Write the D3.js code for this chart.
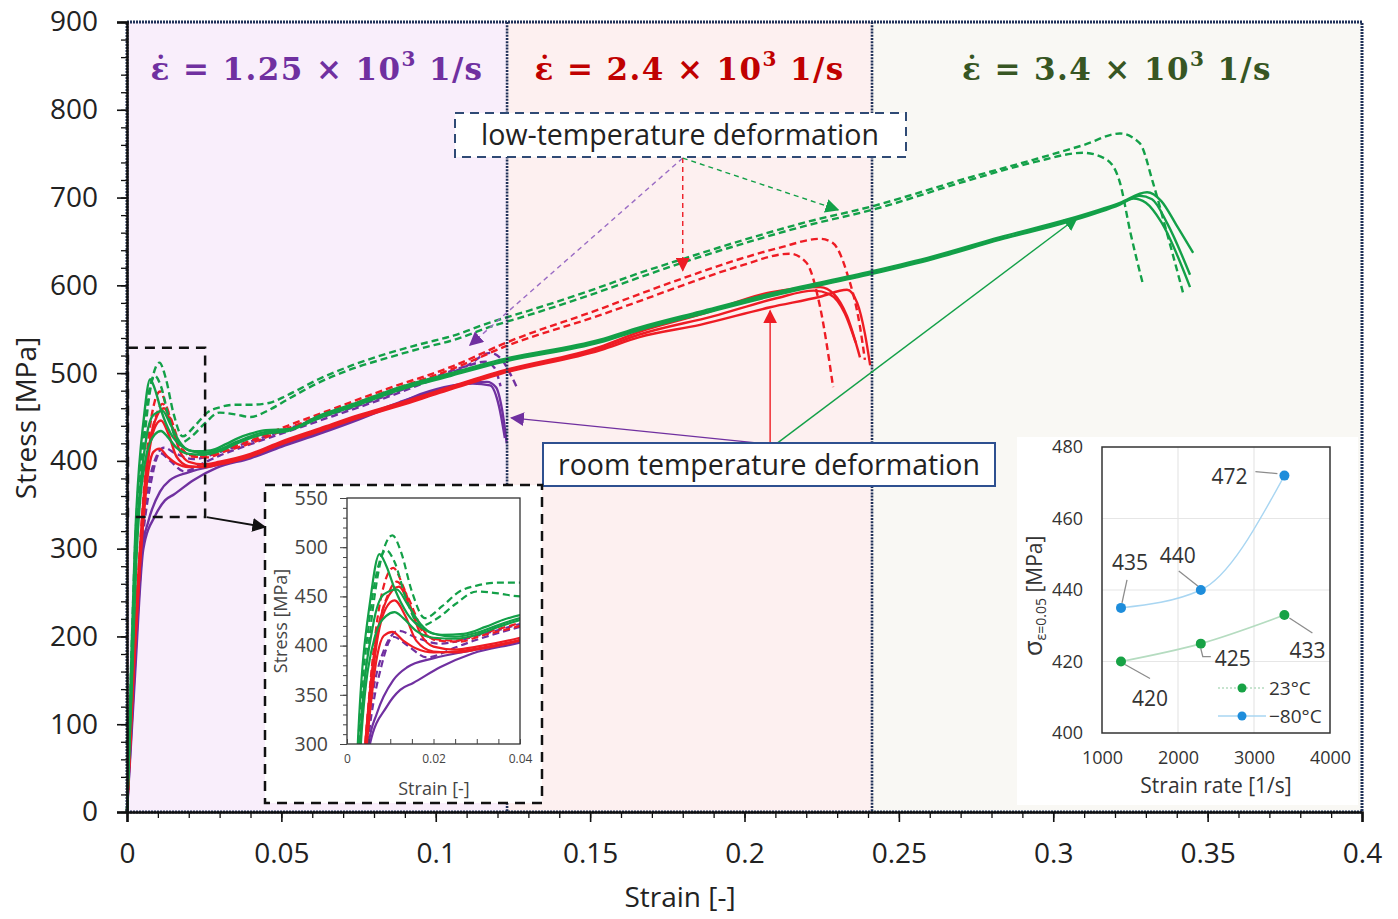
<!DOCTYPE html>
<html>
<head>
<meta charset="utf-8">
<script src="https://cdn.jsdelivr.net/npm/d3@7"></script>
<style>
  html, body { margin: 0; padding: 0; background: #fff; }
  svg { display: block; font-family: "Open Sans", sans-serif; }
</style>
</head>
<body>
<svg id="chart" width="1398" height="919"></svg>
<script>
// ---- data ----
const strainTicks = [0, 0.05, 0.1, 0.15, 0.2, 0.25, 0.3, 0.35, 0.4];
const stressTicks = [0, 100, 200, 300, 400, 500, 600, 700, 800, 900];
const bandEdges = [0, 0.1231, 0.2413, 0.4];
const bandRates = ['1.25', '2.4', '3.4'];

const purpleSolidA = [[0,0],[0.0025,150],[0.0053,300],[0.0092,338],[0.0123,355],[0.0153,362],[0.0215,378],[0.029,392],[0.04,403],[0.05,416],[0.0625,431],[0.075,447],[0.0884,466],[0.095,476],[0.1056,486],[0.1166,490],[0.1195,484],[0.1215,458],[0.123,420]];
const purpleSolidB = [[0,0],[0.0023,150],[0.005,300],[0.0069,331],[0.0107,365],[0.0139,378],[0.0199,387],[0.03,396],[0.04,405],[0.05,418],[0.0625,433],[0.075,449],[0.0884,467],[0.1,480],[0.112,488],[0.1176,486],[0.1205,462],[0.1224,426]];
const purpleDashA = [[0,0],[0.002,150],[0.0048,300],[0.008,380],[0.0107,409],[0.014,400],[0.0185,388],[0.025,398],[0.03,406],[0.04,419],[0.05,431],[0.0625,446],[0.075,461],[0.0884,478],[0.1,494],[0.11,508],[0.1176,523],[0.121,517],[0.124,500],[0.1265,482]];
const purpleDashB = [[0,0],[0.002,150],[0.0045,300],[0.0085,395],[0.012,415],[0.016,408],[0.0215,402],[0.03,410],[0.04,422],[0.05,434],[0.0625,449],[0.075,463],[0.0884,480],[0.1,496],[0.11,508],[0.116,513],[0.119,506],[0.121,485]];

const redSolidA = [[0,0],[0.0018,150],[0.0042,300],[0.0065,400],[0.009,445],[0.012,460],[0.0145,440],[0.017,412],[0.02,399],[0.025,396],[0.03,399],[0.04,408],[0.05,422],[0.0625,437],[0.075,452],[0.0884,466],[0.1,479],[0.1208,502],[0.1532,530],[0.166,547],[0.185,566],[0.2083,592],[0.2245,598],[0.229,590],[0.2332,565],[0.2374,518]];
const redSolidB = [[0,0],[0.002,150],[0.0045,300],[0.0068,400],[0.009,438],[0.011,446],[0.0135,430],[0.016,405],[0.02,394],[0.025,393],[0.03,396],[0.04,405],[0.05,419],[0.0625,434],[0.075,449],[0.0884,463],[0.1,476],[0.1208,499],[0.1532,526],[0.166,541],[0.1856,555],[0.2083,575],[0.2245,587],[0.2332,595],[0.2365,580],[0.239,545],[0.2407,509]];
const redSolidC = [[0,0],[0.002,150],[0.0046,300],[0.007,390],[0.0085,410],[0.0105,414],[0.013,405],[0.016,397],[0.02,393],[0.025,394],[0.03,397],[0.04,406],[0.05,420],[0.0625,436],[0.075,451],[0.0884,465],[0.1,478],[0.1208,501],[0.1532,528],[0.166,544],[0.19,565],[0.21,585],[0.2225,594],[0.2275,590],[0.2325,568],[0.236,535]];
const redDashA = [[0,0],[0.0018,150],[0.0042,300],[0.0068,420],[0.009,468],[0.0107,479],[0.013,460],[0.016,425],[0.02,407],[0.025,405],[0.03,411],[0.04,423],[0.052,440],[0.065,457],[0.0842,482],[0.1056,508],[0.123,535],[0.1532,573],[0.166,590],[0.18,608],[0.1985,630],[0.2115,643],[0.2245,653],[0.2287,648],[0.2332,614],[0.2374,553],[0.239,515]];
const redDashB = [[0,0],[0.0019,150],[0.0044,300],[0.007,410],[0.0095,452],[0.0115,465],[0.014,450],[0.017,420],[0.021,405],[0.026,404],[0.031,410],[0.04,420],[0.052,437],[0.065,454],[0.0842,479],[0.1056,505],[0.123,531],[0.1532,566],[0.166,582],[0.18,600],[0.1985,622],[0.2147,636],[0.22,626],[0.2245,575],[0.2287,484]];

const greenSolidA = [[0,0],[0.0012,150],[0.0025,300],[0.0055,450],[0.0075,493],[0.009,482],[0.011,458],[0.014,432],[0.018,416],[0.022,411],[0.027,412],[0.032,419],[0.036,426],[0.04,431],[0.045,435],[0.052,436],[0.0625,452],[0.075,467],[0.0884,484],[0.105,500],[0.1208,515],[0.1532,538],[0.166,552],[0.1856,570],[0.209,591],[0.2413,616],[0.261,633],[0.2828,655],[0.3045,675],[0.3216,694],[0.3304,706],[0.335,696],[0.34,668],[0.3453,637]];
const greenSolidB = [[0,0],[0.0015,150],[0.003,300],[0.006,420],[0.0085,452],[0.0115,457],[0.014,442],[0.017,422],[0.02,412],[0.025,409],[0.03,413],[0.035,421],[0.04,428],[0.045,433],[0.052,435],[0.0625,450],[0.075,465],[0.0884,482],[0.105,498],[0.1208,513],[0.1532,536],[0.166,550],[0.1856,568],[0.209,589],[0.2413,614],[0.261,631],[0.2828,653],[0.3045,673],[0.3216,693],[0.326,699],[0.33,694],[0.335,672],[0.3443,598]];
const greenSolidC = [[0,0],[0.0016,150],[0.0032,300],[0.0065,410],[0.009,430],[0.011,434],[0.013,428],[0.016,415],[0.02,408],[0.025,407],[0.03,411],[0.035,419],[0.04,426],[0.045,431],[0.052,434],[0.0625,449],[0.075,464],[0.0884,481],[0.105,497],[0.1208,512],[0.1532,535],[0.166,549],[0.1856,567],[0.209,588],[0.2413,613],[0.261,630],[0.2828,652],[0.3045,672],[0.3216,692],[0.328,702],[0.332,698],[0.337,670],[0.3443,612]];
const greenDashA = [[0,0],[0.0015,150],[0.003,300],[0.0055,420],[0.008,490],[0.0105,512],[0.0125,495],[0.015,455],[0.018,428],[0.022,440],[0.026,455],[0.03,461],[0.035,464],[0.04,464],[0.046,466],[0.052,475],[0.062,493],[0.073,509],[0.084,522],[0.095,533],[0.106,543],[0.117,557],[0.13,571],[0.15,594],[0.166,614],[0.18,630],[0.2,652],[0.22,672],[0.2413,690],[0.272,722],[0.2935,743],[0.31,760],[0.3216,773],[0.328,762],[0.3323,717],[0.3368,660],[0.342,592]];
const greenDashB = [[0,0],[0.0012,150],[0.0026,300],[0.005,420],[0.0075,485],[0.009,497],[0.011,485],[0.0135,450],[0.017,420],[0.021,428],[0.025,442],[0.03,455],[0.035,453],[0.04,450],[0.046,458],[0.052,470],[0.062,489],[0.073,505],[0.084,517],[0.095,528],[0.106,538],[0.117,552],[0.13,566],[0.15,589],[0.166,609],[0.18,626],[0.2,648],[0.22,668],[0.2413,686],[0.272,719],[0.2935,740],[0.3097,751],[0.3174,743],[0.3216,717],[0.325,660],[0.329,602]];

// yield stress at strain 0.05 vs strain rate (small inset)
const strainRates = [1250, 2300, 3400];
const sigmaRoom = [420, 425, 433];
const sigmaLow = [435, 440, 472];
const rateTicks = [1000, 2000, 3000, 4000];
const sigmaTicks = [400, 420, 440, 460, 480];

// ---- styles ----
const purple = '#7030a0';
const red = '#ee1c24';
const green = '#13a048';
const navy = '#1f3058';

const series = [
  { pts: purpleSolidA, color: purple, dash: null },
  { pts: purpleSolidB, color: purple, dash: null },
  { pts: purpleDashA, color: purple, dash: '7,4' },
  { pts: purpleDashB, color: purple, dash: '7,4' },
  { pts: redDashA, color: red, dash: '7,4' },
  { pts: redDashB, color: red, dash: '7,4' },
  { pts: redSolidA, color: red, dash: null },
  { pts: redSolidB, color: red, dash: null },
  { pts: redSolidC, color: red, dash: null },
  { pts: greenDashA, color: green, dash: '7,4' },
  { pts: greenDashB, color: green, dash: '7,4' },
  { pts: greenSolidA, color: green, dash: null },
  { pts: greenSolidB, color: green, dash: null },
  { pts: greenSolidC, color: green, dash: null }
];

const svg = d3.select('#chart');
const x = d3.scaleLinear().domain([0, 0.4]).range([127, 1362]);
const y = d3.scaleLinear().domain([0, 900]).range([812, 22]);

const defs = svg.append('defs');
function arrowMarker(id, color) {
  defs.append('marker')
    .attr('id', id)
    .attr('viewBox', '0 0 10 10')
    .attr('refX', 9).attr('refY', 5)
    .attr('markerWidth', 14).attr('markerHeight', 14)
    .attr('markerUnits', 'userSpaceOnUse')
    .attr('orient', 'auto')
    .append('path')
    .attr('d', 'M0,0 L10,5 L0,10 z')
    .attr('fill', color);
}
arrowMarker('a-purple', purple);
arrowMarker('a-red', red);
arrowMarker('a-green', green);
arrowMarker('a-black', '#111');

// ---- strain-rate bands ----
const bandFill = ['#f9eefb', '#fdf0f0', '#f9f8f4'];
const bandTitle = ['#7030a0', '#c00000', '#375623'];

bandRates.forEach((r, i) => {
  svg.append('rect')
    .attr('x', x(bandEdges[i]))
    .attr('y', y(900))
    .attr('width', x(bandEdges[i + 1]) - x(bandEdges[i]))
    .attr('height', y(0) - y(900))
    .attr('fill', bandFill[i]);
});

// ---- curves ----
const line = d3.line()
  .x(d => x(d[0]))
  .y(d => y(d[1]))
  .curve(d3.curveMonotoneX);

svg.append('g')
  .selectAll('path')
  .data(series)
  .join('path')
  .attr('d', d => line(d.pts))
  .attr('fill', 'none')
  .attr('stroke', d => d.color)
  .attr('stroke-width', 2.4)
  .attr('stroke-dasharray', d => d.dash);

// band dividers
bandEdges.slice(1, 3).forEach(e => {
  svg.append('line')
    .attr('x1', x(e)).attr('x2', x(e))
    .attr('y1', y(900)).attr('y2', y(0))
    .attr('stroke', navy)
    .attr('stroke-width', 2.6)
    .attr('stroke-dasharray', '2,1.2');
});

// band titles
bandRates.forEach((r, i) => {
  const t = svg.append('text')
    .attr('x', (x(bandEdges[i]) + x(bandEdges[i + 1])) / 2)
    .attr('y', 80)
    .attr('text-anchor', 'middle')
    .attr('font-family', '"DejaVu Serif", serif')
    .attr('font-weight', 'bold')
    .attr('font-size', 31)
    .attr('letter-spacing', 1.4)
    .attr('fill', bandTitle[i]);
  t.append('tspan').text(`\u03b5\u0307 = ${r} \u00d7 10`);
  t.append('tspan').attr('dy', -14).attr('font-size', 20).text('3');
  t.append('tspan').attr('dy', 14).text(' 1/s');
});

// ---- annotations ----
function arrow(from, to, color, marker, dash, width) {
  svg.append('line')
    .attr('x1', x(from[0])).attr('y1', y(from[1]))
    .attr('x2', x(to[0])).attr('y2', y(to[1]))
    .attr('stroke', color)
    .attr('stroke-width', width)
    .attr('stroke-dasharray', dash)
    .attr('marker-end', `url(#${marker})`);
}

const lowFrom = [0.18, 745];
arrow(lowFrom, [0.1111, 532], '#9a6cc4', 'a-purple', '5,4', 1.4);
arrow(lowFrom, [0.18, 617], red, 'a-red', '5,4', 1.4);
arrow(lowFrom, [0.2303, 686], green, 'a-green', '5,4', 1.4);

const roomFrom = [0.2083, 420];
arrow([0.2055, 420], [0.1245, 449], purple, 'a-purple', null, 1.4);
arrow(roomFrom, [0.2083, 571], red, 'a-red', null, 1.4);
arrow([0.2105, 420], [0.3077, 677], green, 'a-green', null, 1.4);

// low temperature box
svg.append('rect')
  .attr('x', 455).attr('y', 113).attr('width', 451).attr('height', 44)
  .attr('fill', '#fff')
  .attr('stroke', '#2f4a75').attr('stroke-width', 2)
  .attr('stroke-dasharray', '9,6');
svg.append('text')
  .attr('x', 680).attr('y', 145)
  .attr('text-anchor', 'middle')
  .attr('font-size', 28.5)
  .attr('fill', '#222')
  .text('low-temperature deformation');

// room temperature box
svg.append('rect')
  .attr('x', 543).attr('y', 443).attr('width', 452).attr('height', 43)
  .attr('fill', '#fff')
  .attr('stroke', '#2e5090').attr('stroke-width', 2);
svg.append('text')
  .attr('x', 769).attr('y', 475)
  .attr('text-anchor', 'middle')
  .attr('font-size', 28.5)
  .attr('fill', '#222')
  .text('room temperature deformation');

// zoom window on initial part
svg.append('rect')
  .attr('x', x(0.0003)).attr('y', y(529))
  .attr('width', x(0.0253) - x(0.0003))
  .attr('height', y(336) - y(529))
  .attr('fill', 'none')
  .attr('stroke', '#111').attr('stroke-width', 2.5)
  .attr('stroke-dasharray', '10,7');
svg.append('line')
  .attr('x1', x(0.0258)).attr('y1', y(336))
  .attr('x2', 265).attr('y2', 527)
  .attr('stroke', '#111').attr('stroke-width', 1.8)
  .attr('marker-end', 'url(#a-black)');

// ---- inset 1: zoom on yield region ----
const xi = d3.scaleLinear().domain([0, 0.04]).range([347, 520]);
const yi = d3.scaleLinear().domain([300, 550]).range([744, 498]);

svg.append('rect')
  .attr('x', 265).attr('y', 485).attr('width', 277).attr('height', 318)
  .attr('fill', '#fff')
  .attr('stroke', '#111').attr('stroke-width', 2.5)
  .attr('stroke-dasharray', '10,7');

defs.append('clipPath').attr('id', 'clip-inset')
  .append('rect')
  .attr('x', 347).attr('y', 498).attr('width', 173).attr('height', 246);

const lineInset = d3.line()
  .x(d => xi(d[0]))
  .y(d => yi(d[1]))
  .curve(d3.curveMonotoneX);

svg.append('g')
  .attr('clip-path', 'url(#clip-inset)')
  .selectAll('path')
  .data(series)
  .join('path')
  .attr('d', d => lineInset(d.pts))
  .attr('fill', 'none')
  .attr('stroke', d => d.color)
  .attr('stroke-width', 2.2)
  .attr('stroke-dasharray', d => d.dash);

svg.append('rect')
  .attr('x', 347).attr('y', 498).attr('width', 173).attr('height', 246)
  .attr('fill', 'none')
  .attr('stroke', '#333').attr('stroke-width', 1.3);

const insetY = svg.append('g')
  .attr('transform', 'translate(347,0)')
  .call(d3.axisLeft(yi).tickValues(d3.range(300, 551, 10)).tickSize(4).tickFormat(''));
insetY.select('.domain').remove();
insetY.selectAll('line').attr('stroke', '#444');

const insetYLab = svg.append('g')
  .attr('transform', 'translate(347,0)')
  .call(d3.axisLeft(yi).tickValues([300, 350, 400, 450, 500, 550]).tickSize(7).tickPadding(12));
insetYLab.select('.domain').remove();
insetYLab.selectAll('line').attr('stroke', '#444');
insetYLab.selectAll('text')
  .attr('font-family', '"Open Sans", sans-serif')
  .attr('font-size', 19.5).attr('fill', '#444');

const insetX = svg.append('g')
  .attr('transform', 'translate(0,744)')
  .call(d3.axisTop(xi).tickValues(d3.range(0, 0.0401, 0.005)).tickSize(5).tickFormat(''));
insetX.select('.domain').remove();
insetX.selectAll('line').attr('stroke', '#444');

const insetXLab = svg.append('g')
  .attr('transform', 'translate(0,744)')
  .call(d3.axisBottom(xi).tickValues([0, 0.02, 0.04]).tickSize(0).tickPadding(10).tickFormat(d => d));
insetXLab.select('.domain').remove();
insetXLab.selectAll('text')
  .attr('font-family', '"Open Sans", sans-serif')
  .attr('font-size', 12).attr('fill', '#444');

svg.append('text')
  .attr('x', 434).attr('y', 795)
  .attr('text-anchor', 'middle')
  .attr('font-size', 18).attr('fill', '#444')
  .text('Strain [-]');
svg.append('text')
  .attr('transform', 'translate(287,621) rotate(-90)')
  .attr('text-anchor', 'middle')
  .attr('font-size', 18).attr('fill', '#444')
  .text('Stress [MPa]');

// ---- inset 2: stress at strain 0.05 vs strain rate ----
const xr = d3.scaleLinear().domain([1000, 4000]).range([1102, 1330]);
const yr = d3.scaleLinear().domain([400, 480]).range([733, 447]);

svg.append('rect')
  .attr('x', 1017).attr('y', 437).attr('width', 341).attr('height', 368)
  .attr('fill', '#fff');

svg.append('g')
  .selectAll('line.gx')
  .data([2000, 3000])
  .join('line')
  .attr('x1', d => xr(d)).attr('x2', d => xr(d))
  .attr('y1', yr(480)).attr('y2', yr(400))
  .attr('stroke', '#e6e6e6').attr('stroke-width', 1.2);
svg.append('g')
  .selectAll('line.gy')
  .data([420, 440, 460])
  .join('line')
  .attr('x1', xr(1000)).attr('x2', xr(4000))
  .attr('y1', d => yr(d)).attr('y2', d => yr(d))
  .attr('stroke', '#e6e6e6').attr('stroke-width', 1.2);

svg.append('rect')
  .attr('x', xr(1000)).attr('y', yr(480))
  .attr('width', xr(4000) - xr(1000)).attr('height', yr(400) - yr(480))
  .attr('fill', 'none')
  .attr('stroke', '#333').attr('stroke-width', 1.5);

const rateLine = d3.line()
  .x(d => xr(d[0]))
  .y(d => yr(d[1]))
  .curve(d3.curveMonotoneX);

const roomPts = strainRates.map((r, i) => [r, sigmaRoom[i]]);
const lowPts = strainRates.map((r, i) => [r, sigmaLow[i]]);

svg.append('path')
  .attr('d', rateLine(roomPts))
  .attr('fill', 'none')
  .attr('stroke', '#b5dcc0').attr('stroke-width', 1.6);
svg.append('path')
  .attr('d', rateLine(lowPts))
  .attr('fill', 'none')
  .attr('stroke', '#a9d6f2').attr('stroke-width', 1.4);

svg.append('g')
  .selectAll('circle')
  .data(roomPts)
  .join('circle')
  .attr('cx', d => xr(d[0])).attr('cy', d => yr(d[1]))
  .attr('r', 5).attr('fill', '#17a245');
svg.append('g')
  .selectAll('circle')
  .data(lowPts)
  .join('circle')
  .attr('cx', d => xr(d[0])).attr('cy', d => yr(d[1]))
  .attr('r', 5).attr('fill', '#1e8ddb');

// value labels with leader lines (offsets in pixels from the point)
const labelOffsets = [
  { pt: lowPts[0], leader: [[1, -5], [6, -28]], text: [9, -38] },
  { pt: lowPts[1], leader: [[-3, -4], [-22, -19]], text: [-23, -27] },
  { pt: lowPts[2], leader: [[-7, -2], [-29, -4]], text: [-55, 8] },
  { pt: roomPts[0], leader: [[4, 3], [29, 17]], text: [29, 44] },
  { pt: roomPts[1], leader: [[0, 5], [2, 13], [10, 13]], text: [32, 22] },
  { pt: roomPts[2], leader: [[5, 3], [28, 18]], text: [23, 43] }
];
labelOffsets.forEach(l => {
  const px = xr(l.pt[0]);
  const py = yr(l.pt[1]);
  svg.append('polyline')
    .attr('points', l.leader.map(o => `${px + o[0]},${py + o[1]}`).join(' '))
    .attr('fill', 'none')
    .attr('stroke', '#8c8c8c').attr('stroke-width', 1.3);
  svg.append('text')
    .attr('x', px + l.text[0]).attr('y', py + l.text[1])
    .attr('text-anchor', 'middle')
    .attr('font-size', 21).attr('fill', '#333')
    .text(l.pt[1]);
});

// legend
const legendItems = [
  { label: '23°C', line: '#b5dcc0', dot: '#17a245', dash: '2,2', dy: 688 },
  { label: '\u221280°C', line: '#a9d6f2', dot: '#1e8ddb', dash: null, dy: 716 }
];
legendItems.forEach(it => {
  svg.append('line')
    .attr('x1', 1218).attr('x2', 1266)
    .attr('y1', it.dy).attr('y2', it.dy)
    .attr('stroke', it.line).attr('stroke-width', 1.6)
    .attr('stroke-dasharray', it.dash);
  svg.append('circle')
    .attr('cx', 1242).attr('cy', it.dy).attr('r', 4.5)
    .attr('fill', it.dot);
  svg.append('text')
    .attr('x', 1269).attr('y', it.dy + 7)
    .attr('font-size', 19).attr('fill', '#333')
    .text(it.label);
});

const rateY = svg.append('g')
  .attr('transform', `translate(${xr(1000)},0)`)
  .call(d3.axisLeft(yr).tickValues(sigmaTicks).tickSize(0).tickPadding(19));
rateY.select('.domain').remove();
rateY.selectAll('text')
  .attr('font-family', '"Open Sans", sans-serif')
  .attr('font-size', 18).attr('fill', '#333');

const rateX = svg.append('g')
  .attr('transform', `translate(0,${yr(400)})`)
  .call(d3.axisBottom(xr).tickValues(rateTicks).tickSize(0).tickPadding(18).tickFormat(d => d));
rateX.select('.domain').remove();
rateX.selectAll('text')
  .attr('font-family', '"Open Sans", sans-serif')
  .attr('font-size', 18).attr('fill', '#333');

svg.append('text')
  .attr('x', 1216).attr('y', 793)
  .attr('text-anchor', 'middle')
  .attr('font-size', 21).attr('fill', '#333')
  .text('Strain rate [1/s]');

const sigLab = svg.append('text')
  .attr('transform', 'translate(1042,596) rotate(-90)')
  .attr('text-anchor', 'middle')
  .attr('font-size', 21).attr('fill', '#333');
sigLab.append('tspan').attr('font-size', 26).text('\u03c3');
sigLab.append('tspan').attr('font-size', 14).attr('dy', 4).text('\u03b5=0.05');
sigLab.append('tspan').attr('dy', -4).text(' [MPa]');

// ---- main axes & frame ----
svg.append('rect')
  .attr('x', x(0)).attr('y', y(900))
  .attr('width', x(0.4) - x(0)).attr('height', y(0) - y(900))
  .attr('fill', 'none')
  .attr('stroke', navy).attr('stroke-width', 3)
  .attr('stroke-dasharray', '2,1');

const minorX = svg.append('g')
  .attr('transform', `translate(0,${y(0)})`)
  .call(d3.axisBottom(x).tickValues(d3.range(0, 0.4001, 0.01)).tickSize(6).tickFormat(''));
minorX.select('.domain').remove();
minorX.selectAll('line').attr('stroke', '#111').attr('stroke-width', 1.3);

const xAxis = svg.append('g')
  .attr('transform', `translate(0,${y(0)})`)
  .call(d3.axisBottom(x).tickValues(strainTicks).tickSize(10).tickPadding(21).tickFormat(d => d));
xAxis.select('.domain').attr('stroke', '#111').attr('stroke-width', 2.5);
xAxis.selectAll('line').attr('stroke', '#111').attr('stroke-width', 1.6);
xAxis.selectAll('text')
  .attr('font-family', '"Open Sans", sans-serif')
  .attr('font-size', 28).attr('fill', '#222');

const minorY = svg.append('g')
  .attr('transform', `translate(${x(0)},0)`)
  .call(d3.axisLeft(y).tickValues(d3.range(0, 901, 20)).tickSize(6).tickFormat(''));
minorY.select('.domain').remove();
minorY.selectAll('line').attr('stroke', '#111').attr('stroke-width', 1.3);

const yAxis = svg.append('g')
  .attr('transform', `translate(${x(0)},0)`)
  .call(d3.axisLeft(y).tickValues(stressTicks).tickSize(10).tickPadding(19));
yAxis.select('.domain').attr('stroke', '#111').attr('stroke-width', 2.5);
yAxis.selectAll('line').attr('stroke', '#111').attr('stroke-width', 1.6);
yAxis.selectAll('text')
  .attr('font-family', '"Open Sans", sans-serif')
  .attr('font-size', 28).attr('fill', '#222');

svg.append('text')
  .attr('x', 680).attr('y', 907)
  .attr('text-anchor', 'middle')
  .attr('font-size', 28).attr('fill', '#222')
  .text('Strain [-]');

svg.append('text')
  .attr('transform', 'translate(36,418) rotate(-90)')
  .attr('text-anchor', 'middle')
  .attr('font-size', 28).attr('fill', '#222')
  .text('Stress [MPa]');
</script>
</body>
</html>
